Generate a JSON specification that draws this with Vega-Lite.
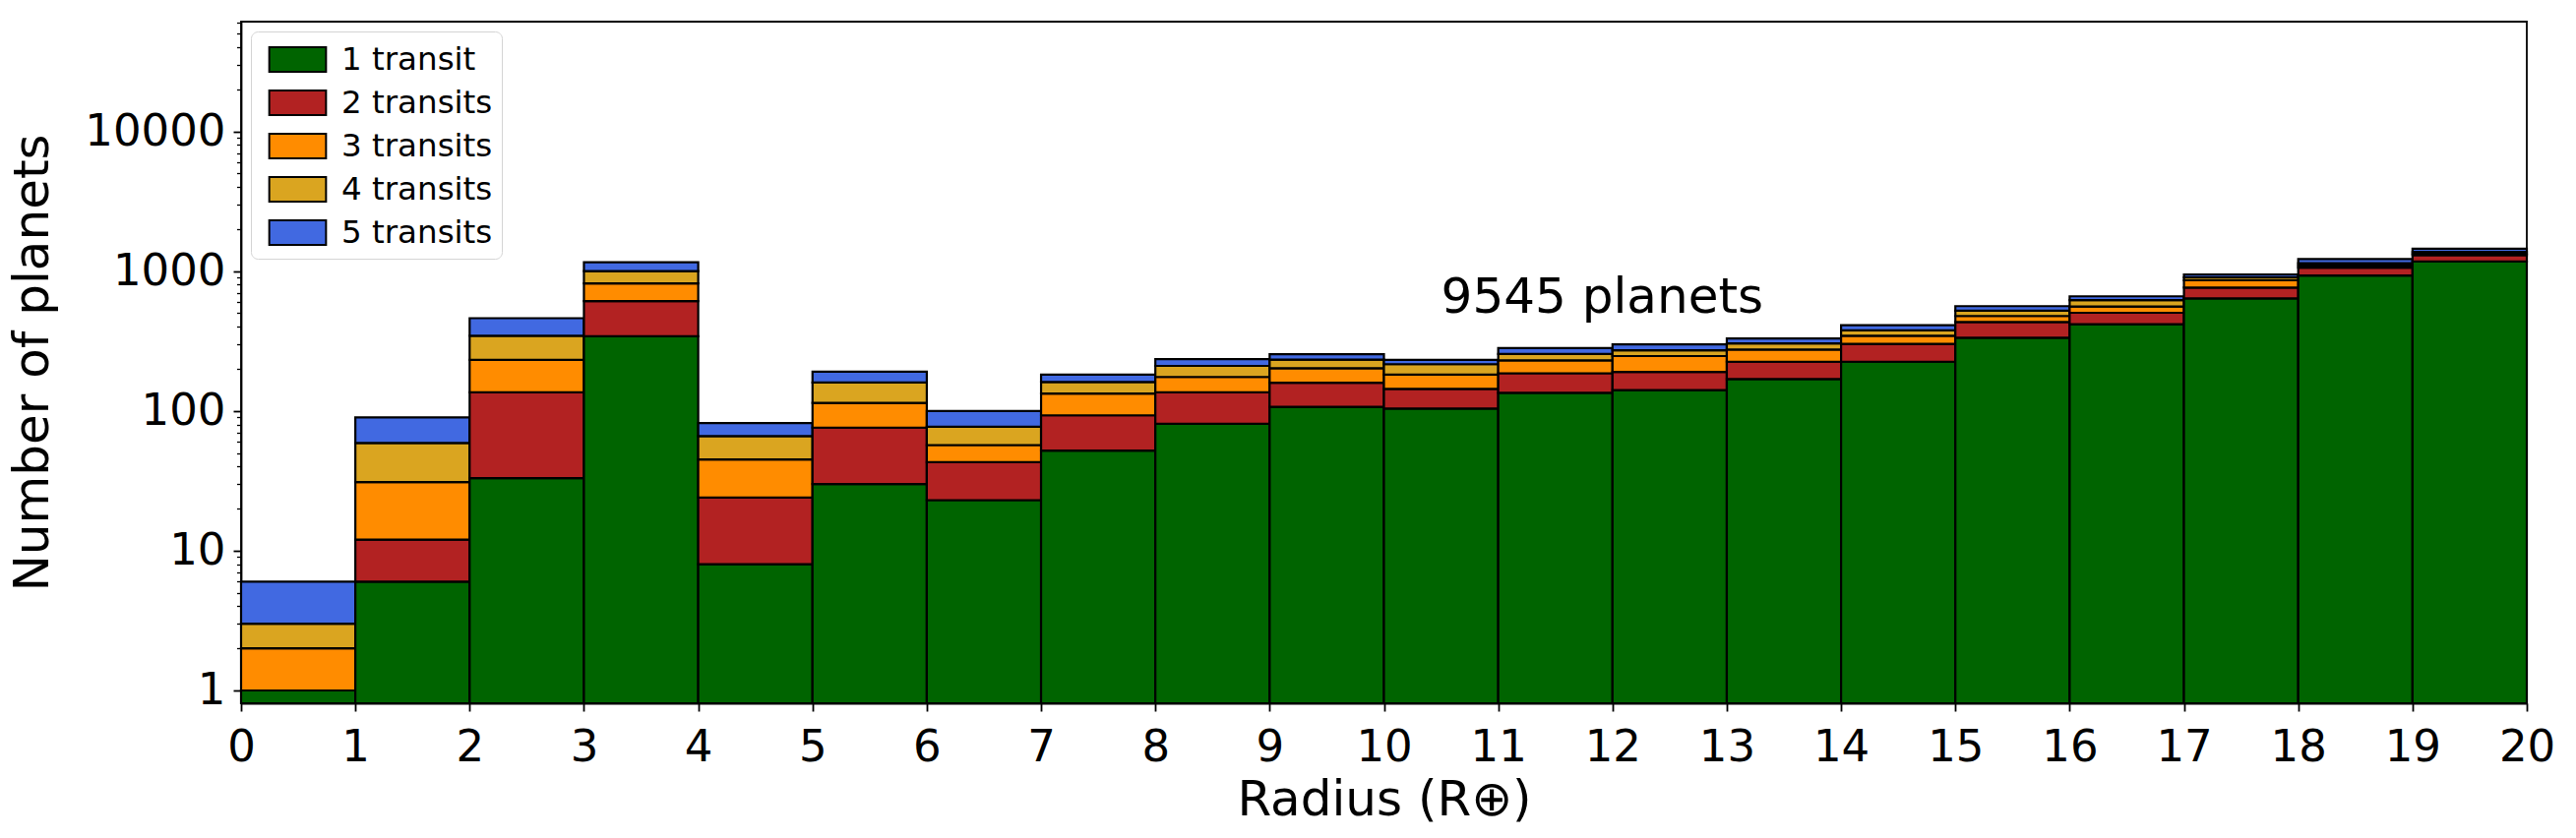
{
  "$schema": "https://vega.github.io/schema/vega-lite/v6.json",
  "width": 2323,
  "height": 693,
  "autosize": {"type": "none"},
  "padding": {"left": 245, "top": 22, "right": 50, "bottom": 137},
  "background": "white",
  "config": {
    "font": "DejaVu Sans",
    "view": {"stroke": "black", "strokeWidth": 1.8},
    "axis": {
      "domainColor": "black", "domainWidth": 1.8,
      "tickColor": "black", "tickWidth": 1.8,
      "labelColor": "black", "labelFont": "DejaVu Sans", "labelFontSize": 45,
      "titleColor": "black", "titleFont": "DejaVu Sans", "titleFontSize": 50, "titleFontWeight": "normal",
      "grid": false
    },
    "legend": {
      "orient": "top-left", "offset": 10, "fillColor": "white", "strokeColor": "#d4d4d4",
      "cornerRadius": 7, "padding": 9,
      "symbolType": "M-1.6,-0.7H1.6V0.7H-1.6Z", "symbolSize": 1300,
      "symbolStrokeColor": "black", "symbolStrokeWidth": 2, "symbolOpacity": 1,
      "labelFont": "DejaVu Sans", "labelFontSize": 32.5, "labelColor": "black", "labelLimit": 500,
      "rowPadding": 7, "symbolOffset": 19, "labelOffset": 25
    }
  },
  "layer": [
    {
      "data": {"values": [
        {"r0": 0, "r1": 1, "transits": "1 transit", "k": 1, "n": 1},
        {"r0": 0, "r1": 1, "transits": "3 transits", "k": 3, "n": 1},
        {"r0": 0, "r1": 1, "transits": "4 transits", "k": 4, "n": 1},
        {"r0": 0, "r1": 1, "transits": "5 transits", "k": 5, "n": 3},
        {"r0": 1, "r1": 2, "transits": "1 transit", "k": 1, "n": 6},
        {"r0": 1, "r1": 2, "transits": "2 transits", "k": 2, "n": 6},
        {"r0": 1, "r1": 2, "transits": "3 transits", "k": 3, "n": 19},
        {"r0": 1, "r1": 2, "transits": "4 transits", "k": 4, "n": 28},
        {"r0": 1, "r1": 2, "transits": "5 transits", "k": 5, "n": 31},
        {"r0": 2, "r1": 3, "transits": "1 transit", "k": 1, "n": 33},
        {"r0": 2, "r1": 3, "transits": "2 transits", "k": 2, "n": 103},
        {"r0": 2, "r1": 3, "transits": "3 transits", "k": 3, "n": 96},
        {"r0": 2, "r1": 3, "transits": "4 transits", "k": 4, "n": 113},
        {"r0": 2, "r1": 3, "transits": "5 transits", "k": 5, "n": 116},
        {"r0": 3, "r1": 4, "transits": "1 transit", "k": 1, "n": 342},
        {"r0": 3, "r1": 4, "transits": "2 transits", "k": 2, "n": 268},
        {"r0": 3, "r1": 4, "transits": "3 transits", "k": 3, "n": 208},
        {"r0": 3, "r1": 4, "transits": "4 transits", "k": 4, "n": 182},
        {"r0": 3, "r1": 4, "transits": "5 transits", "k": 5, "n": 160},
        {"r0": 4, "r1": 5, "transits": "1 transit", "k": 1, "n": 8},
        {"r0": 4, "r1": 5, "transits": "2 transits", "k": 2, "n": 16},
        {"r0": 4, "r1": 5, "transits": "3 transits", "k": 3, "n": 21},
        {"r0": 4, "r1": 5, "transits": "4 transits", "k": 4, "n": 21},
        {"r0": 4, "r1": 5, "transits": "5 transits", "k": 5, "n": 16},
        {"r0": 5, "r1": 6, "transits": "1 transit", "k": 1, "n": 30},
        {"r0": 5, "r1": 6, "transits": "2 transits", "k": 2, "n": 46},
        {"r0": 5, "r1": 6, "transits": "3 transits", "k": 3, "n": 38},
        {"r0": 5, "r1": 6, "transits": "4 transits", "k": 4, "n": 46},
        {"r0": 5, "r1": 6, "transits": "5 transits", "k": 5, "n": 31},
        {"r0": 6, "r1": 7, "transits": "1 transit", "k": 1, "n": 23},
        {"r0": 6, "r1": 7, "transits": "2 transits", "k": 2, "n": 20},
        {"r0": 6, "r1": 7, "transits": "3 transits", "k": 3, "n": 14},
        {"r0": 6, "r1": 7, "transits": "4 transits", "k": 4, "n": 20},
        {"r0": 6, "r1": 7, "transits": "5 transits", "k": 5, "n": 23},
        {"r0": 7, "r1": 8, "transits": "1 transit", "k": 1, "n": 52},
        {"r0": 7, "r1": 8, "transits": "2 transits", "k": 2, "n": 41},
        {"r0": 7, "r1": 8, "transits": "3 transits", "k": 3, "n": 40},
        {"r0": 7, "r1": 8, "transits": "4 transits", "k": 4, "n": 28},
        {"r0": 7, "r1": 8, "transits": "5 transits", "k": 5, "n": 21},
        {"r0": 8, "r1": 9, "transits": "1 transit", "k": 1, "n": 81},
        {"r0": 8, "r1": 9, "transits": "2 transits", "k": 2, "n": 55},
        {"r0": 8, "r1": 9, "transits": "3 transits", "k": 3, "n": 39},
        {"r0": 8, "r1": 9, "transits": "4 transits", "k": 4, "n": 35},
        {"r0": 8, "r1": 9, "transits": "5 transits", "k": 5, "n": 25},
        {"r0": 9, "r1": 10, "transits": "1 transit", "k": 1, "n": 107},
        {"r0": 9, "r1": 10, "transits": "2 transits", "k": 2, "n": 52},
        {"r0": 9, "r1": 10, "transits": "3 transits", "k": 3, "n": 43},
        {"r0": 9, "r1": 10, "transits": "4 transits", "k": 4, "n": 31},
        {"r0": 9, "r1": 10, "transits": "5 transits", "k": 5, "n": 22},
        {"r0": 10, "r1": 11, "transits": "1 transit", "k": 1, "n": 104},
        {"r0": 10, "r1": 11, "transits": "2 transits", "k": 2, "n": 40},
        {"r0": 10, "r1": 11, "transits": "3 transits", "k": 3, "n": 38},
        {"r0": 10, "r1": 11, "transits": "4 transits", "k": 4, "n": 34},
        {"r0": 10, "r1": 11, "transits": "5 transits", "k": 5, "n": 16},
        {"r0": 11, "r1": 12, "transits": "1 transit", "k": 1, "n": 135},
        {"r0": 11, "r1": 12, "transits": "2 transits", "k": 2, "n": 51},
        {"r0": 11, "r1": 12, "transits": "3 transits", "k": 3, "n": 44},
        {"r0": 11, "r1": 12, "transits": "4 transits", "k": 4, "n": 26},
        {"r0": 11, "r1": 12, "transits": "5 transits", "k": 5, "n": 26},
        {"r0": 12, "r1": 13, "transits": "1 transit", "k": 1, "n": 141},
        {"r0": 12, "r1": 13, "transits": "2 transits", "k": 2, "n": 49},
        {"r0": 12, "r1": 13, "transits": "3 transits", "k": 3, "n": 57},
        {"r0": 12, "r1": 13, "transits": "4 transits", "k": 4, "n": 25},
        {"r0": 12, "r1": 13, "transits": "5 transits", "k": 5, "n": 27},
        {"r0": 13, "r1": 14, "transits": "1 transit", "k": 1, "n": 169},
        {"r0": 13, "r1": 14, "transits": "2 transits", "k": 2, "n": 56},
        {"r0": 13, "r1": 14, "transits": "3 transits", "k": 3, "n": 50},
        {"r0": 13, "r1": 14, "transits": "4 transits", "k": 4, "n": 29},
        {"r0": 13, "r1": 14, "transits": "5 transits", "k": 5, "n": 26},
        {"r0": 14, "r1": 15, "transits": "1 transit", "k": 1, "n": 225},
        {"r0": 14, "r1": 15, "transits": "2 transits", "k": 2, "n": 77},
        {"r0": 14, "r1": 15, "transits": "3 transits", "k": 3, "n": 43},
        {"r0": 14, "r1": 15, "transits": "4 transits", "k": 4, "n": 32},
        {"r0": 14, "r1": 15, "transits": "5 transits", "k": 5, "n": 34},
        {"r0": 15, "r1": 16, "transits": "1 transit", "k": 1, "n": 334},
        {"r0": 15, "r1": 16, "transits": "2 transits", "k": 2, "n": 99},
        {"r0": 15, "r1": 16, "transits": "3 transits", "k": 3, "n": 45},
        {"r0": 15, "r1": 16, "transits": "4 transits", "k": 4, "n": 43},
        {"r0": 15, "r1": 16, "transits": "5 transits", "k": 5, "n": 41},
        {"r0": 16, "r1": 17, "transits": "1 transit", "k": 1, "n": 418},
        {"r0": 16, "r1": 17, "transits": "2 transits", "k": 2, "n": 86},
        {"r0": 16, "r1": 17, "transits": "3 transits", "k": 3, "n": 55},
        {"r0": 16, "r1": 17, "transits": "4 transits", "k": 4, "n": 61},
        {"r0": 16, "r1": 17, "transits": "5 transits", "k": 5, "n": 41},
        {"r0": 17, "r1": 18, "transits": "1 transit", "k": 1, "n": 638},
        {"r0": 17, "r1": 18, "transits": "2 transits", "k": 2, "n": 125},
        {"r0": 17, "r1": 18, "transits": "3 transits", "k": 3, "n": 100},
        {"r0": 17, "r1": 18, "transits": "4 transits", "k": 4, "n": 40},
        {"r0": 17, "r1": 18, "transits": "5 transits", "k": 5, "n": 43},
        {"r0": 18, "r1": 19, "transits": "1 transit", "k": 1, "n": 930},
        {"r0": 18, "r1": 19, "transits": "2 transits", "k": 2, "n": 130},
        {"r0": 18, "r1": 19, "transits": "3 transits", "k": 3, "n": 40},
        {"r0": 18, "r1": 19, "transits": "4 transits", "k": 4, "n": 40},
        {"r0": 18, "r1": 19, "transits": "5 transits", "k": 5, "n": 80},
        {"r0": 19, "r1": 20, "transits": "1 transit", "k": 1, "n": 1175},
        {"r0": 19, "r1": 20, "transits": "2 transits", "k": 2, "n": 128},
        {"r0": 19, "r1": 20, "transits": "3 transits", "k": 3, "n": 30},
        {"r0": 19, "r1": 20, "transits": "4 transits", "k": 4, "n": 40},
        {"r0": 19, "r1": 20, "transits": "5 transits", "k": 5, "n": 76}
      ]},
      "transform": [
        {"window": [{"op": "sum", "field": "n", "as": "top"}], "groupby": ["r0"], "sort": [{"field": "k", "order": "ascending"}], "frame": [null, 0]},
        {"calculate": "max(datum.top - datum.n, 0.5)", "as": "bot"}
      ],
      "mark": {"type": "bar", "stroke": "black", "strokeWidth": 2.2, "opacity": 1},
      "encoding": {
        "x": {"field": "r0", "type": "quantitative", "scale": {"domain": [0, 20], "nice": false, "zero": false},
          "axis": {"values": [0,1,2,3,4,5,6,7,8,9,10,11,12,13,14,15,16,17,18,19,20], "format": "d", "tickSize": 8, "labelPadding": 14,
            "labelOverlap": false, "labelFlush": false, "title": "Radius (R⊕)", "titlePadding": 6}},
        "x2": {"field": "r1"},
        "y": {"field": "top", "type": "quantitative",
          "scale": {"type": "log", "domain": [0.81, 61000], "nice": false, "clamp": true},
          "axis": {
            "values": [1,2,3,4,5,6,7,8,9,10,20,30,40,50,60,70,80,90,100,200,300,400,500,600,700,800,900,1000,2000,3000,4000,5000,6000,7000,8000,9000,10000,20000,30000,40000,50000,60000],
            "labelExpr": "indexof([1,10,100,1000,10000], datum.value) >= 0 ? format(datum.value, 'd') : ''",
            "labelOverlap": false, "labelFlush": false, "labelPadding": 8,
            "tickSize": {"condition": {"test": "indexof([1,10,100,1000,10000], datum.value) >= 0", "value": 8}, "value": 4.5},
            "tickWidth": {"condition": {"test": "indexof([1,10,100,1000,10000], datum.value) >= 0", "value": 1.8}, "value": 1.3},
            "title": "Number of planets", "titlePadding": 27}},
        "y2": {"field": "bot"},
        "color": {"field": "transits", "type": "nominal",
          "scale": {"domain": ["1 transit", "2 transits", "3 transits", "4 transits", "5 transits"],
                    "range": ["#006400", "#b22222", "#ff8c00", "#daa520", "#4169e1"]},
          "legend": {"title": null}}
      }
    },
    {
      "data": {"values": [{"x": 10.5, "y": 500, "label": "9545 planets"}]},
      "mark": {"type": "text", "align": "left", "baseline": "alphabetic", "fontSize": 50, "font": "DejaVu Sans", "color": "black"},
      "encoding": {
        "x": {"field": "x", "type": "quantitative"},
        "y": {"field": "y", "type": "quantitative"},
        "text": {"field": "label"}
      }
    }
  ]
}
